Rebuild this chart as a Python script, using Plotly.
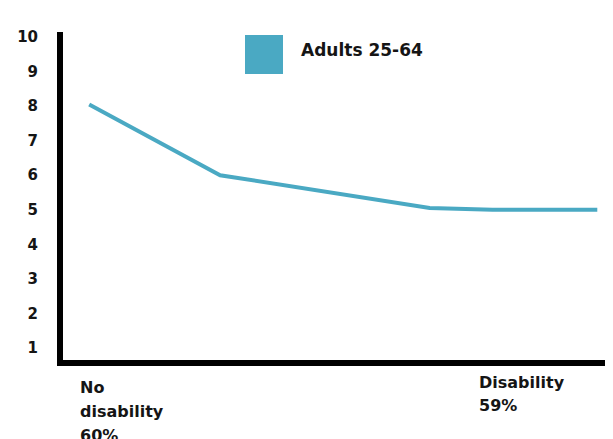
import plotly.graph_objects as go

# Data
x_values = [0, 2.5, 6.5, 7.7, 9.7]
y_values = [8.05, 6.0, 5.05, 5.0, 5.0]
series_name = "Adults 25-64"
y_ticks = [1, 2, 3, 4, 5, 6, 7, 8, 9, 10]
x_labels = [["No", "disability", "60%"], ["Disability", "59%"]]

LINE_COLOR = "#4aa9c3"
TEXT_COLOR = "#151515"
FONT = "DejaVu Sans"

# page body has an 8px margin; figure is sized to fill the rest
fig = go.Figure()
fig.add_trace(go.Scatter(
    x=x_values, y=y_values, mode="lines", name=series_name,
    line=dict(color=LINE_COLOR, width=4), showlegend=False,
))

fig.update_layout(
    width=605, height=431,
    margin=dict(l=55, r=0, t=24, b=79),
    paper_bgcolor="white", plot_bgcolor="white",
    font=dict(family=FONT, size=16, color=TEXT_COLOR),
    xaxis=dict(range=[-0.5, 10], showgrid=False, zeroline=False,
               showticklabels=False, ticks="",
               showline=True, linecolor="black", linewidth=6),
    yaxis=dict(range=[0.653, 10.145], showgrid=False, zeroline=False,
               tickmode="array", tickvals=y_ticks,
               ticktext=["<b>" + str(v) + "</b>" for v in y_ticks],
               tickfont=dict(family=FONT, size=15, color=TEXT_COLOR),
               ticks="", ticklabelstandoff=16,
               showline=True, linecolor="black", linewidth=6),
)

# Legend swatch (manual square legend)
fig.add_shape(type="rect", xref="paper", yref="paper",
              x0=(245 - 63) / 550, x1=(283 - 63) / 550,
              y0=(360 - 74) / 328, y1=(360 - 35) / 328,
              fillcolor=LINE_COLOR, line=dict(width=0))
fig.add_annotation(xref="paper", yref="paper",
                   x=(299 - 63) / 550, y=(360 - 50) / 328,
                   xanchor="left", yanchor="middle", showarrow=False,
                   text="<b>" + series_name + "</b>",
                   font=dict(family=FONT, size=17, color=TEXT_COLOR))

# Category labels under x axis, left aligned, one line each
label_pos = [(-0.215, 387), (7.4, 382)]
for lines, (lx, ly) in zip(x_labels, label_pos):
    for i, line in enumerate(lines):
        yp = ly + i * 24
        fig.add_annotation(xref="x", yref="paper", x=lx,
                           y=(360 - yp) / 328, xanchor="left",
                           yanchor="middle", showarrow=False,
                           text="<b>" + line + "</b>",
                           font=dict(family=FONT, size=16, color=TEXT_COLOR))

fig.write_html("out.html")
